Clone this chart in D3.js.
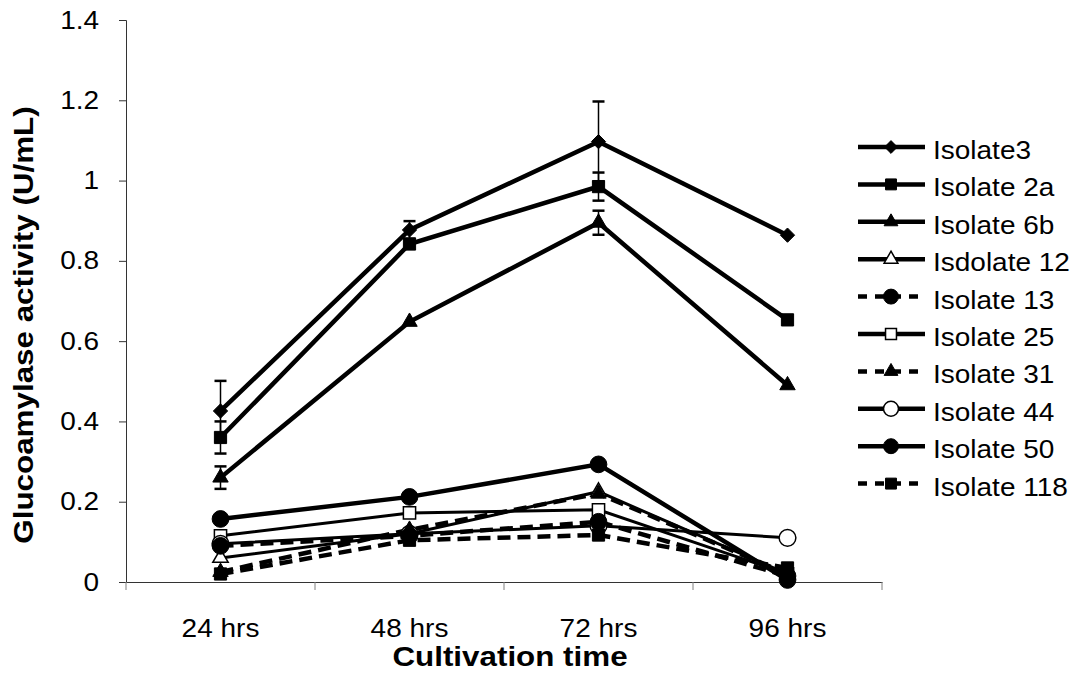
<!DOCTYPE html>
<html><head><meta charset="utf-8">
<script src="https://cdn.jsdelivr.net/npm/d3@7/dist/d3.min.js"></script>
<style>body{margin:0;background:#fff;} svg{display:block;font-family:"Liberation Sans",Arial,sans-serif;}</style>
</head><body>
<svg id="c" width="1082" height="673"></svg>
<script>
const categories = ["24 hrs","48 hrs","72 hrs","96 hrs"];
const seriesNames = ["Isolate3","Isolate 2a","Isolate 6b","Isdolate 12","Isolate 13","Isolate 25","Isolate 31","Isolate 44","Isolate 50","Isolate 118"];
const isolate3   = [0.426, 0.877, 1.097, 0.864];
const isolate2a  = [0.360, 0.842, 0.985, 0.653];
const isolate6b  = [0.260, 0.648, 0.895, 0.490];
const isolate12  = [0.060, 0.120, 0.225, 0.020];
const isolate13  = [0.090, 0.115, 0.150, 0.015];
const isolate25  = [0.115, 0.172, 0.180, 0.020];
const isolate31  = [0.025, 0.130, 0.220, 0.020];
const isolate44  = [0.095, 0.120, 0.140, 0.110];
const isolate50  = [0.157, 0.212, 0.293, 0.005];
const isolate118 = [0.020, 0.104, 0.117, 0.035];
const err3  = [0.075, 0.022, 0.100, 0];
const err2a = [0.040, 0, 0.035, 0];
const err6b = [0.028, 0, 0.030, 0];
const yTicks = [0, 0.2, 0.4, 0.6, 0.8, 1, 1.2, 1.4];

const series = [
  {name: seriesNames[0], v: isolate3, err: err3, sym: "diamond", fill: true, dash: false},
  {name: seriesNames[1], v: isolate2a, err: err2a, sym: "square", fill: true, dash: false},
  {name: seriesNames[2], v: isolate6b, err: err6b, sym: "triangle", fill: true, dash: false},
  {name: seriesNames[3], v: isolate12, sym: "triangle", fill: false, dash: false, thin: true},
  {name: seriesNames[4], v: isolate13, sym: "circle", fill: true, dash: true},
  {name: seriesNames[5], v: isolate25, sym: "square", fill: false, dash: false, thin: true},
  {name: seriesNames[6], v: isolate31, sym: "triangle", fill: true, dash: true},
  {name: seriesNames[7], v: isolate44, sym: "circle", fill: false, dash: false, thin: true},
  {name: seriesNames[8], v: isolate50, sym: "circle", fill: true, dash: false},
  {name: seriesNames[9], v: isolate118, sym: "square", fill: true, dash: true}
];

const SX = 1.12; // horizontal glyph stretch of the original text
const svg = d3.select("#c");
const L = 126, R = 882, T = 20, B = 582;
const x = d3.scaleBand().domain(categories).range([L, R]);
const y = d3.scaleLinear().domain([0, 1.4]).range([B, T]);

// y axis
const ya = svg.append("g").attr("transform", `translate(${L},0)`)
  .call(d3.axisLeft(y).tickValues(yTicks).tickSize(7).tickPadding(17).tickFormat(d => d3.format("")(d)));
ya.select(".domain").attr("stroke", "#333");
ya.selectAll(".tick line").attr("stroke", "#333");
ya.selectAll("text").attr("font-size", 25).attr("fill", "#000")
  .attr("font-family", "Liberation Sans, Arial, sans-serif").attr("transform", `scale(${SX},1)`);

// x axis
const xa = svg.append("g").attr("transform", `translate(0,${B})`)
  .call(d3.axisBottom(x).tickSize(0).tickPadding(37));
xa.select(".domain").attr("stroke", "#333");
xa.selectAll("text").attr("font-size", 25).attr("fill", "#000")
  .attr("font-family", "Liberation Sans, Arial, sans-serif").attr("transform", `scale(${SX},1)`);
xa.selectAll(".sep").data(d3.range(categories.length + 1)).enter().append("line")
  .attr("x1", i => L + i * x.bandwidth()).attr("x2", i => L + i * x.bandwidth())
  .attr("y1", 0).attr("y2", 8).attr("stroke", "#808080");

svg.append("g").attr("transform", `translate(510,666)`).append("text")
  .attr("text-anchor", "middle").attr("transform", `scale(${SX},1)`)
  .attr("font-size", 28).attr("font-weight", "bold").text("Cultivation time");
svg.append("g").attr("transform", `translate(33,325) rotate(-90)`).append("text")
  .attr("text-anchor", "middle").attr("transform", `scale(${SX},1)`)
  .attr("font-size", 28).attr("font-weight", "bold").text("Glucoamylase activity (U/mL)");

const cx = c => x(c) + x.bandwidth() / 2;

function symPath(sym, k = 1) {
  if (sym === "diamond") return d3.symbol().type(d3.symbolDiamond2).size(130 * k)();
  if (sym === "square") return d3.symbol().type(d3.symbolSquare2).size(190 * k)();
  if (sym === "triangle") return d3.symbol().type(d3.symbolTriangle2).size(170 * k)();
  return d3.symbol().type(d3.symbolCircle).size(220 * k)();
}

// error bars
series.filter(s => s.err).forEach(s => {
  const g = svg.append("g");
  s.v.forEach((v, i) => {
    const e = s.err[i];
    if (!e) return;
    const X = cx(categories[i]);
    g.append("line").attr("x1", X).attr("x2", X).attr("y1", y(v - e)).attr("y2", y(v + e)).attr("stroke", "#000").attr("stroke-width", 1.5);
    [v - e, v + e].forEach(t => g.append("line").attr("x1", X - 6).attr("x2", X + 6).attr("y1", y(t)).attr("y2", y(t)).attr("stroke", "#000").attr("stroke-width", 2.5));
  });
});

const line = d3.line().x((d, i) => cx(categories[i])).y(d => y(d));
series.slice().reverse().forEach(s => {
  svg.append("path").datum(s.v).attr("d", line).attr("fill", "none").attr("stroke", "#000")
    .attr("stroke-width", s.thin ? 3 : 4.5).attr("stroke-dasharray", s.dash ? "13,7" : null);
});
// open markers first, filled markers on top
const order = series.filter(s => !s.fill).concat(series.filter(s => s.fill).reverse());
order.forEach(s => {
  svg.append("g").selectAll("path").data(s.v).enter().append("path")
    .attr("d", symPath(s.sym))
    .attr("transform", (d, i) => `translate(${cx(categories[i])},${y(d)})`)
    .attr("fill", s.fill ? "#000" : "#fff").attr("stroke", "#000").attr("stroke-width", s.fill ? 1 : 1.5);
});

// legend
const lg = svg.append("g");
series.forEach((s, i) => {
  const Y = 147 + i * 37.4;
  lg.append("line").attr("x1", 858).attr("x2", 925).attr("y1", Y).attr("y2", Y)
    .attr("stroke", "#000").attr("stroke-width", 4.5).attr("stroke-dasharray", s.dash ? "9,8" : null)
    .attr("stroke-dashoffset", s.dash ? 0 : null);
  lg.append("path").attr("d", symPath(s.sym, 0.8)).attr("transform", `translate(891,${Y})`)
    .attr("fill", s.fill ? "#000" : "#fff").attr("stroke", "#000").attr("stroke-width", s.fill ? 1 : 1.5);
  lg.append("g").attr("transform", `translate(933,${Y + 12})`).append("text")
    .attr("transform", `scale(${SX},1)`).attr("font-size", 25).text(s.name);
});
</script>
</body></html>
